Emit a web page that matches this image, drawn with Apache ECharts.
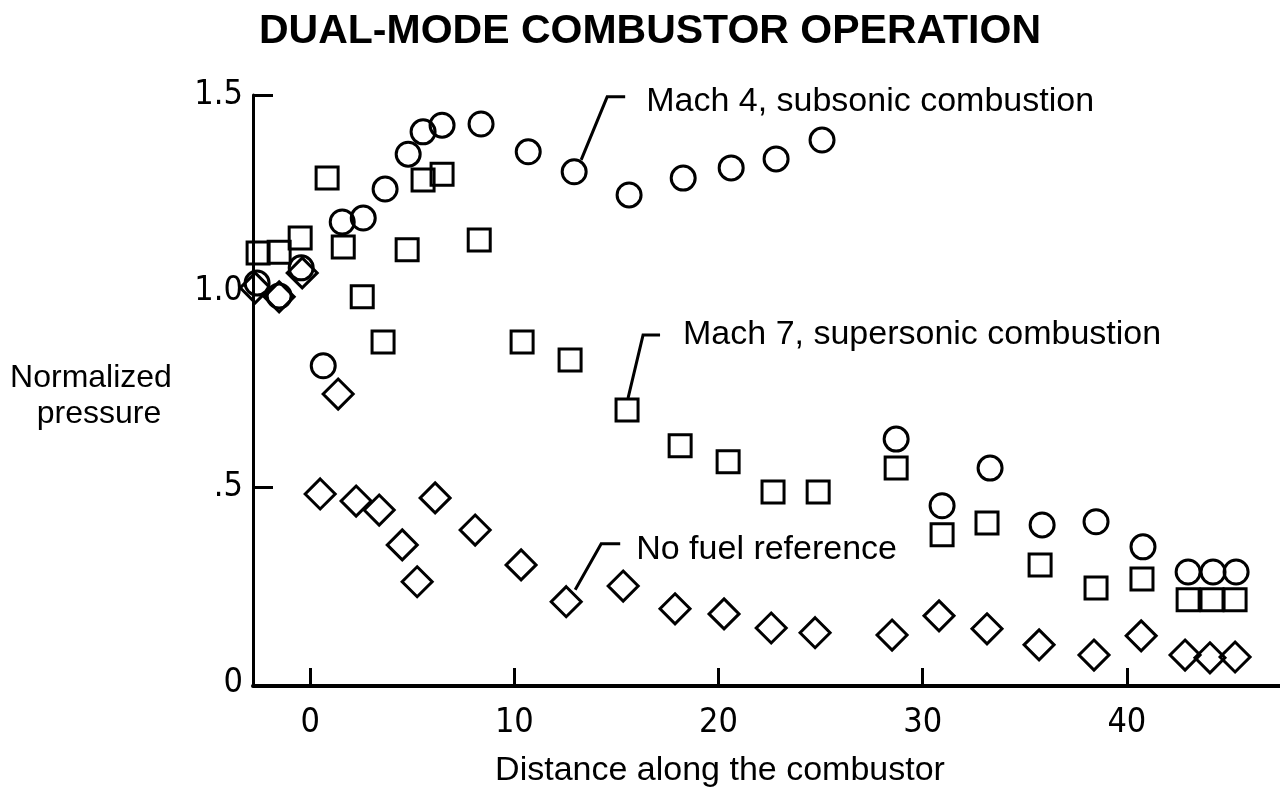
<!DOCTYPE html>
<html>
<head>
<meta charset="utf-8">
<title>Dual-mode combustor operation</title>
<style>
  html, body { margin: 0; padding: 0; background: #fff; }
  #chart { width: 1280px; height: 792px; }
</style>
<script src="https://cdn.jsdelivr.net/npm/echarts@6/dist/echarts.min.js"></script>
</head>
<body>
<div id="chart"></div>
<script>
// Mach 4, subsonic combustion (circles)
var mach4X = [-2.60, -1.52, -0.44, 0.64, 1.57, 2.60, 3.67, 4.80, 5.53, 6.46, 8.37, 10.68, 12.93, 15.62, 18.27, 20.62, 22.82, 25.07, 28.70, 30.95, 33.30, 35.85, 38.49, 40.79, 43.00, 44.22, 45.35];
var mach4Y = [1.020, 0.987, 1.059, 0.809, 1.176, 1.186, 1.260, 1.349, 1.406, 1.423, 1.426, 1.355, 1.304, 1.245, 1.288, 1.314, 1.337, 1.385, 0.622, 0.452, 0.548, 0.403, 0.411, 0.347, 0.283, 0.283, 0.283];

// Mach 7, supersonic combustion (squares)
var mach7X = [-2.55, -1.52, -0.49, 0.83, 1.62, 2.55, 3.57, 4.75, 5.53, 6.46, 8.28, 10.38, 12.73, 15.52, 18.12, 20.47, 22.67, 24.88, 28.70, 30.95, 33.15, 35.75, 38.49, 40.74, 43.00, 44.17, 45.30];
var mach7Y = [1.097, 1.099, 1.135, 1.288, 1.112, 0.985, 0.870, 1.105, 1.283, 1.298, 1.130, 0.870, 0.824, 0.696, 0.605, 0.564, 0.487, 0.487, 0.548, 0.378, 0.408, 0.301, 0.242, 0.265, 0.212, 0.212, 0.212];

// No fuel reference (diamonds)
var noFuelX = [-2.69, -1.52, -0.39, 1.37, 0.49, 2.25, 3.38, 4.51, 5.24, 6.12, 8.08, 10.33, 12.54, 15.33, 17.87, 20.27, 22.58, 24.73, 28.50, 30.80, 33.15, 35.70, 38.39, 40.70, 42.85, 44.07, 45.30];
var noFuelY = [1.008, 0.985, 1.046, 0.737, 0.482, 0.464, 0.441, 0.352, 0.258, 0.472, 0.390, 0.301, 0.207, 0.247, 0.189, 0.176, 0.140, 0.128, 0.122, 0.171, 0.138, 0.097, 0.071, 0.120, 0.071, 0.064, 0.066];

var xTicks = [0, 10, 20, 30, 40];
var yTicks = [0, 0.5, 1.0, 1.5];
var yTickLabels = ['0', '.5', '1.0', '1.5'];

function pairs(xs, ys) {
  return xs.map(function (x, i) { return [x, ys[i]]; });
}

var FONT = '"Liberation Sans", Arial, sans-serif';
var NARROW = '"Liberation Sans Narrow", "DejaVu Sans Condensed", "Liberation Sans", sans-serif';

var chart = echarts.init(document.getElementById('chart'));

// open black outlines, no fill, full opacity (scatter defaults to 0.8)
var marker = { color: 'rgba(0,0,0,0)', borderColor: '#000', borderWidth: 3, opacity: 1 };

var option = {
  animation: false,
  backgroundColor: '#fff',
  grid: { left: 253, right: 0, top: 95, bottom: 106, outerBoundsMode: 'none' },
  xAxis: {
    type: 'value',
    min: -2.8,
    max: 47.5,
    axisLine: { onZero: false, lineStyle: { color: '#000', width: 4 } },
    axisTick: { inside: true, length: 18, customValues: xTicks, lineStyle: { color: '#000', width: 3 } },
    axisLabel: { customValues: xTicks, color: '#000', fontFamily: NARROW, fontSize: 34, margin: 20 },
    splitLine: { show: false }
  },
  yAxis: {
    type: 'value',
    min: -0.008,
    max: 1.5,
    axisLine: { onZero: false, lineStyle: { color: '#000', width: 3 } },
    axisTick: { inside: true, length: 20, customValues: [0.5, 1.5], lineStyle: { color: '#000', width: 3 } },
    axisLabel: {
      customValues: yTicks,
      color: '#000',
      fontFamily: NARROW,
      fontSize: 34,
      margin: 10,
      padding: [8, 0, 0, 0],
      formatter: function (v) {
        var i = yTicks.indexOf(v);
        return i >= 0 ? yTickLabels[i] : '';
      }
    },
    splitLine: { show: false }
  },
  series: [
    { name: 'Mach 4, subsonic combustion', type: 'scatter', symbol: 'circle', symbolSize: 24,
      itemStyle: marker, emphasis: { disabled: true }, data: pairs(mach4X, mach4Y) },
    { name: 'Mach 7, supersonic combustion', type: 'scatter', symbol: 'rect', symbolSize: 22,
      itemStyle: marker, emphasis: { disabled: true }, data: pairs(mach7X, mach7Y) },
    { name: 'No fuel reference', type: 'scatter', symbol: 'diamond', symbolSize: 30,
      itemStyle: marker, emphasis: { disabled: true }, data: pairs(noFuelX, noFuelY) }
  ]
};

chart.setOption(option);

// leader lines + labels, hung off a data point of each series
var notes = [
  { text: 'Mach 4, subsonic combustion', x: mach4X[12], y: mach4Y[12],
    path: [[7, -12], [33, -75], [51, -75]], tx: 72, ty: -70 },
  { text: 'Mach 7, supersonic combustion', x: mach7X[13], y: mach7Y[13],
    path: [[1, -12], [16, -75], [33, -75]], tx: 56, ty: -75 },
  { text: 'No fuel reference', x: noFuelX[12], y: noFuelY[12],
    path: [[9, -12], [35, -58], [54, -58]], tx: 70, ty: -52 }
];

var graphics = [
  { type: 'text', x: 650, y: 32,
    style: { text: 'DUAL-MODE COMBUSTOR OPERATION', font: 'bold 41px ' + FONT, fill: '#000', align: 'center', verticalAlign: 'middle' } },
  { type: 'text', x: 720, y: 771,
    style: { text: 'Distance along the combustor', font: '34px ' + FONT, fill: '#000', align: 'center', verticalAlign: 'middle' } },
  { type: 'text', x: 91, y: 378,
    style: { text: 'Normalized', font: '32px ' + FONT, fill: '#000', align: 'center', verticalAlign: 'middle' } },
  { type: 'text', x: 99, y: 414,
    style: { text: 'pressure', font: '32px ' + FONT, fill: '#000', align: 'center', verticalAlign: 'middle' } }
];

notes.forEach(function (n) {
  var p = chart.convertToPixel({ gridIndex: 0 }, [n.x, n.y]);
  graphics.push({
    type: 'polyline',
    shape: { points: n.path.map(function (d) { return [p[0] + d[0], p[1] + d[1]]; }) },
    style: { stroke: '#000', lineWidth: 3, fill: null }
  });
  graphics.push({
    type: 'text', x: p[0] + n.tx, y: p[1] + n.ty,
    style: { text: n.text, font: '34px ' + FONT, fill: '#000', align: 'left', verticalAlign: 'middle' }
  });
});

chart.setOption({ graphic: graphics });
</script>
</body>
</html>
